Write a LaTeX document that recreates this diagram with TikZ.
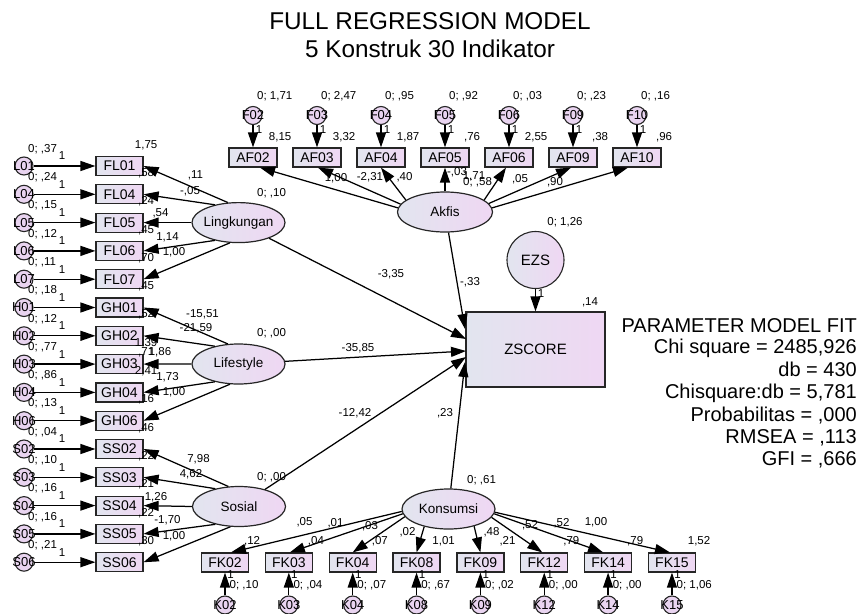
\documentclass[tikz,border=0pt]{standalone}
\usepackage{fontspec}
\setmainfont{Liberation Sans}
\usetikzlibrary{shapes.geometric,arrows.meta}
\definecolor{boxL}{RGB}{226,229,239}
\definecolor{boxR}{RGB}{239,215,243}
\definecolor{errC}{RGB}{233,212,240}
\tikzset{
 ind/.style={draw=black!85,line width=1.2pt,rectangle,minimum width=47pt,minimum height=19pt,inner sep=0pt,left color=boxL,right color=boxR,font=\fontsize{14}{14}\selectfont},
 err/.style={draw=black!85,line width=1.1pt,circle,minimum size=18pt,inner sep=0pt,fill=errC,font=\fontsize{13}{13}\selectfont},
 lat/.style={draw=black!85,line width=1.2pt,ellipse,minimum width=93pt,minimum height=40pt,inner sep=0pt,left color=boxL,right color=boxR,font=\fontsize{13.5}{13.5}\selectfont},
 lbl/.style={inner sep=0pt,font=\fontsize{11.5}{11.5}\selectfont},
 arr/.style={line width=1.25pt,-{Triangle[length=15pt,width=10pt]}},
 ttl/.style={inner sep=0pt,font=\fontsize{24.3}{24.3}\selectfont,anchor=base},
 fit/.style={inner sep=0pt,font=\fontsize{20}{20}\selectfont,anchor=base east},
}
\begin{document}
\begin{tikzpicture}[x=1pt,y=-1pt]
\useasboundingbox (0,0) rectangle (859,613);
\fill[white] (0,0) rectangle (859,613);
% title
\node[ttl] (t1) at (430,29.5) {FULL REGRESSION MODEL};
\node[ttl] (t2) at (430,57.5) {5 Konstruk 30 Indikator};
% fit
\node[fit] (f1) at (857,332) {PARAMETER MODEL FIT};
\node[fit] (f2) at (857,353.5) {Chi square = 2485,926};
\node[fit] (f3) at (857,376) {db = 430};
\node[fit] (f4) at (857,398.5) {Chisquare:db = 5,781};
\node[fit] (f5) at (857,421) {Probabilitas = ,000};
\node[fit] (f6) at (857,443.5) {RMSEA = ,113};
\node[fit] (f7) at (857,465.5) {GFI = ,666};
% left indicators
\foreach \nm/\e/\v/\ic [count=\i from 0] in {
 FL01/L01/{,37}/{1,75}, FL04/L04/{,24}/{,58}, FL05/L05/{,15}/{,24}, FL06/L06/{,12}/{,45}, FL07/L07/{,11}/{,70},
 GH01/H01/{,18}/{,45}, GH02/H02/{,12}/{,52}, GH03/H03/{,77}/{1,39}, GH04/H04/{,86}/{2,41}, GH06/H06/{,13}/{,16},
 SS02/S02/{,04}/{,46}, SS03/S03/{,10}/{,22}, SS04/S04/{,16}/{,21}, SS05/S05/{,16}/{,22}, SS06/S06/{,21}/{,30}}{
 \pgfmathsetmacro\yy{166+28.3*\i}
 \node[ind] (\nm) at (119.5,\yy) {\nm};
 \node[err] (e\nm) at (24,\yy) {\makebox[0pt]{\e}};
 \node[lbl,anchor=west] (ve\nm) at (28,\yy-17) {0; \v};
 \node[lbl] (one\nm) at (62,\yy-10) {1};
 \node[lbl] (ic\nm) at ([shift={(2.5pt,11pt)}]\nm.north east) {\ic};
 \draw[arr] (e\nm) -- (\nm);
}
% top indicators
\foreach \nm/\e/\v/\ic [count=\i from 0] in {AF02/F02/{1,71}/{8,15}, AF03/F03/{2,47}/{3,32}, AF04/F04/{,95}/{1,87}, AF05/F05/{,92}/{,76}, AF06/F06/{,03}/{2,55}, AF09/F09/{,23}/{,38}, AF10/F10/{,16}/{,96}}{
 \pgfmathsetmacro\xx{253+64*\i}
 \node[ind,minimum width=48pt] (\nm) at (\xx,157.5) {\nm};
 \node[err] (e\nm) at (\xx,115.5) {\makebox[0pt]{\e}};
 \node[lbl,anchor=west] (ve\nm) at (\xx+4,96) {0; \v};
 \node[lbl] (one\nm) at (\xx+6,129.5) {1};
 \node[lbl] (ic\nm) at ([shift={(2.5pt,10pt)}]\nm.north east) {\ic};
 \draw[arr] (e\nm) -- (\nm);
}
% bottom indicators
\foreach \nm/\e/\v/\ic [count=\i from 0] in {FK02/K02/{,10}/{,12}, FK03/K03/{,04}/{,04}, FK04/K04/{,07}/{,07}, FK08/K08/{,67}/{1,01}, FK09/K09/{,02}/{,21}, FK12/K12/{,00}/{,79}, FK14/K14/{,00}/{,79}, FK15/K15/{1,06}/{1,52}}{
 \pgfmathsetmacro\xx{225+63.85*\i}
 \node[ind] (\nm) at (\xx,562.5) {\nm};
 \node[err] (e\nm) at (\xx,605) {\makebox[0pt]{\e}};
 \node[lbl,anchor=west] (ve\nm) at (\xx+4.5,585) {0; \v};
 \node[lbl] (one\nm) at (\xx+5.5,575) {1};
 \node[lbl] (ic\nm) at ([shift={(3pt,11pt)}]\nm.north east) {\ic};
 \draw[arr] (e\nm) -- (\nm);
}
% latent
\node[lat] (Lingkungan) at (238.5,222.6) {\makebox[0pt]{Lingkungan}};
\node[lat] (Lifestyle) at (238.5,364) {\makebox[0pt]{Lifestyle}};
\node[lat] (Sosial) at (239,506.5) {\makebox[0pt]{Sosial}};
\node[lat,minimum width=95pt] (Akfis) at (445,212) {\makebox[0pt]{Akfis}};
\node[lat] (Konsumsi) at (448.5,509) {\makebox[0pt]{Konsumsi}};
% structural
\node[ind,minimum width=139pt,minimum height=75pt,font=\fontsize{15}{15}\selectfont] (ZSCORE) at (535.5,349.5) {ZSCORE};
\node[err,minimum size=57pt,left color=boxL,right color=boxR,font=\fontsize{15}{15}\selectfont] (EZS) at (535.5,260) {EZS};
\draw[arr] (EZS) -- (ZSCORE);
\node[lbl] (oneEZS) at (541,294) {1};
\node[lbl] (vEZS) at (565,222) {0; 1,26};
\node[lbl] (r2) at (590,302) {,14};
% loadings left
\foreach \lv/\a/\b/\c/\d/\e in {Lingkungan/FL01/FL04/FL05/FL06/FL07, Lifestyle/GH01/GH02/GH03/GH04/GH06, Sosial/SS02/SS03/SS04/SS05/SS06}{
 \draw[arr] (\lv.118) -- (\a.east);
 \draw[arr] (\lv.143) -- (\b.east);
 \draw[arr] (\lv.180) -- (\c.east);
 \draw[arr] (\lv.217) -- (\d.east);
 \draw[arr] (\lv.247) -- (\e.east);
}
% akfis
\node[lbl] (lA1) at (336,178) {1,00};
\draw[arr] (Akfis.175) -- ([xshift=7pt]AF02.south);
\draw[arr] (Akfis.170) -- ([xshift=1pt]AF03.south);
\draw[arr] (Akfis.163) -- (AF04.south);
\draw[arr] (Akfis.north) -- (AF05.south);
\draw[arr] (Akfis.17) -- ([xshift=-3pt]AF06.south);
\draw[arr] (Akfis.11) -- ([xshift=-2pt]AF09.south);
\draw[arr] (Akfis.5) -- ([xshift=-9pt]AF10.south);
% konsumsi
\draw[arr] (Konsumsi.183) -- ([xshift=6pt]FK02.north);
\draw[arr] (Konsumsi.186) -- ([xshift=1pt]FK03.north);
\draw[arr] (Konsumsi.190) -- (FK04.north);
\draw[arr] (Konsumsi.216) -- (FK08.north);
\draw[arr] (Konsumsi.326) -- (FK09.north);
\draw[arr] (Konsumsi.349) -- ([xshift=-2pt]FK12.north);
\draw[arr] (Konsumsi.354) -- ([xshift=-5pt]FK14.north);
\draw[arr] (Konsumsi.356) -- ([xshift=-2pt]FK15.north);
% regressions
\coordinate (zA) at (465,329);
\coordinate (zL) at (466,339);
\coordinate (zF) at (466,351);
\coordinate (zS) at (466,357);
\coordinate (zK) at (465,362);
\draw[arr] (Akfis) -- (zA);
\draw[arr] (Lingkungan) -- (zL);
\draw[arr] (Lifestyle) -- (zF);
\draw[arr] (Sosial) -- (zS);
\draw[arr] (Konsumsi) -- (zK);
% labels
\node[lbl] at (195.5,175) {,11};
\node[lbl] at (190,191) {-,05};
\node[lbl] at (160.5,213) {,54};
\node[lbl] at (167.5,237) {1,14};
\node[lbl] at (174,252) {1,00};
\node[lbl] at (202.5,314) {-15,51};
\node[lbl] at (196,328) {-21,59};
\node[lbl,anchor=west] at (138,352) {,71};
\node[lbl] at (160,352) {1,86};
\node[lbl] at (167.5,377) {1,73};
\node[lbl] at (174,392) {1,00};
\node[lbl] at (198.5,459) {7,98};
\node[lbl] at (191,474) {4,62};
\node[lbl] at (156,497) {1,26};
\node[lbl] at (167.5,520) {-1,70};
\node[lbl] at (174,536) {1,00};
\node[lbl,anchor=west] at (257,193) {0; ,10};
\node[lbl,anchor=west] at (257,333) {0; ,00};
\node[lbl,anchor=west] at (257,477) {0; ,00};
\node[lbl,anchor=west] at (463,182.5) {0; ,58};
\node[lbl,anchor=west] at (467,480) {0; ,61};
\node[lbl] at (391,274) {-3,35};
\node[lbl] at (470,282) {-,33};
\node[lbl] at (358,348) {-35,85};
\node[lbl] at (355,413) {-12,42};
\node[lbl] at (445,413) {,23};
\node[lbl] at (370,177.5) {-2,31};
\node[lbl] at (404.5,177.5) {,40};
\node[lbl] at (457,172.5) {-,03};
\node[lbl] at (474,176) {1,71};
\node[lbl] at (520,179) {,05};
\node[lbl] at (555,182) {,90};
\node[lbl] at (304.5,522) {,05};
\node[lbl] at (335.5,523.5) {,01};
\node[lbl] at (370,526) {,03};
\node[lbl] at (407.5,532.5) {,02};
\node[lbl] at (491.5,532) {,48};
\node[lbl] at (530,525.5) {,52};
\node[lbl] at (561.5,523) {,52};
\node[lbl] at (596,522) {1,00};
\end{tikzpicture}
\end{document}
